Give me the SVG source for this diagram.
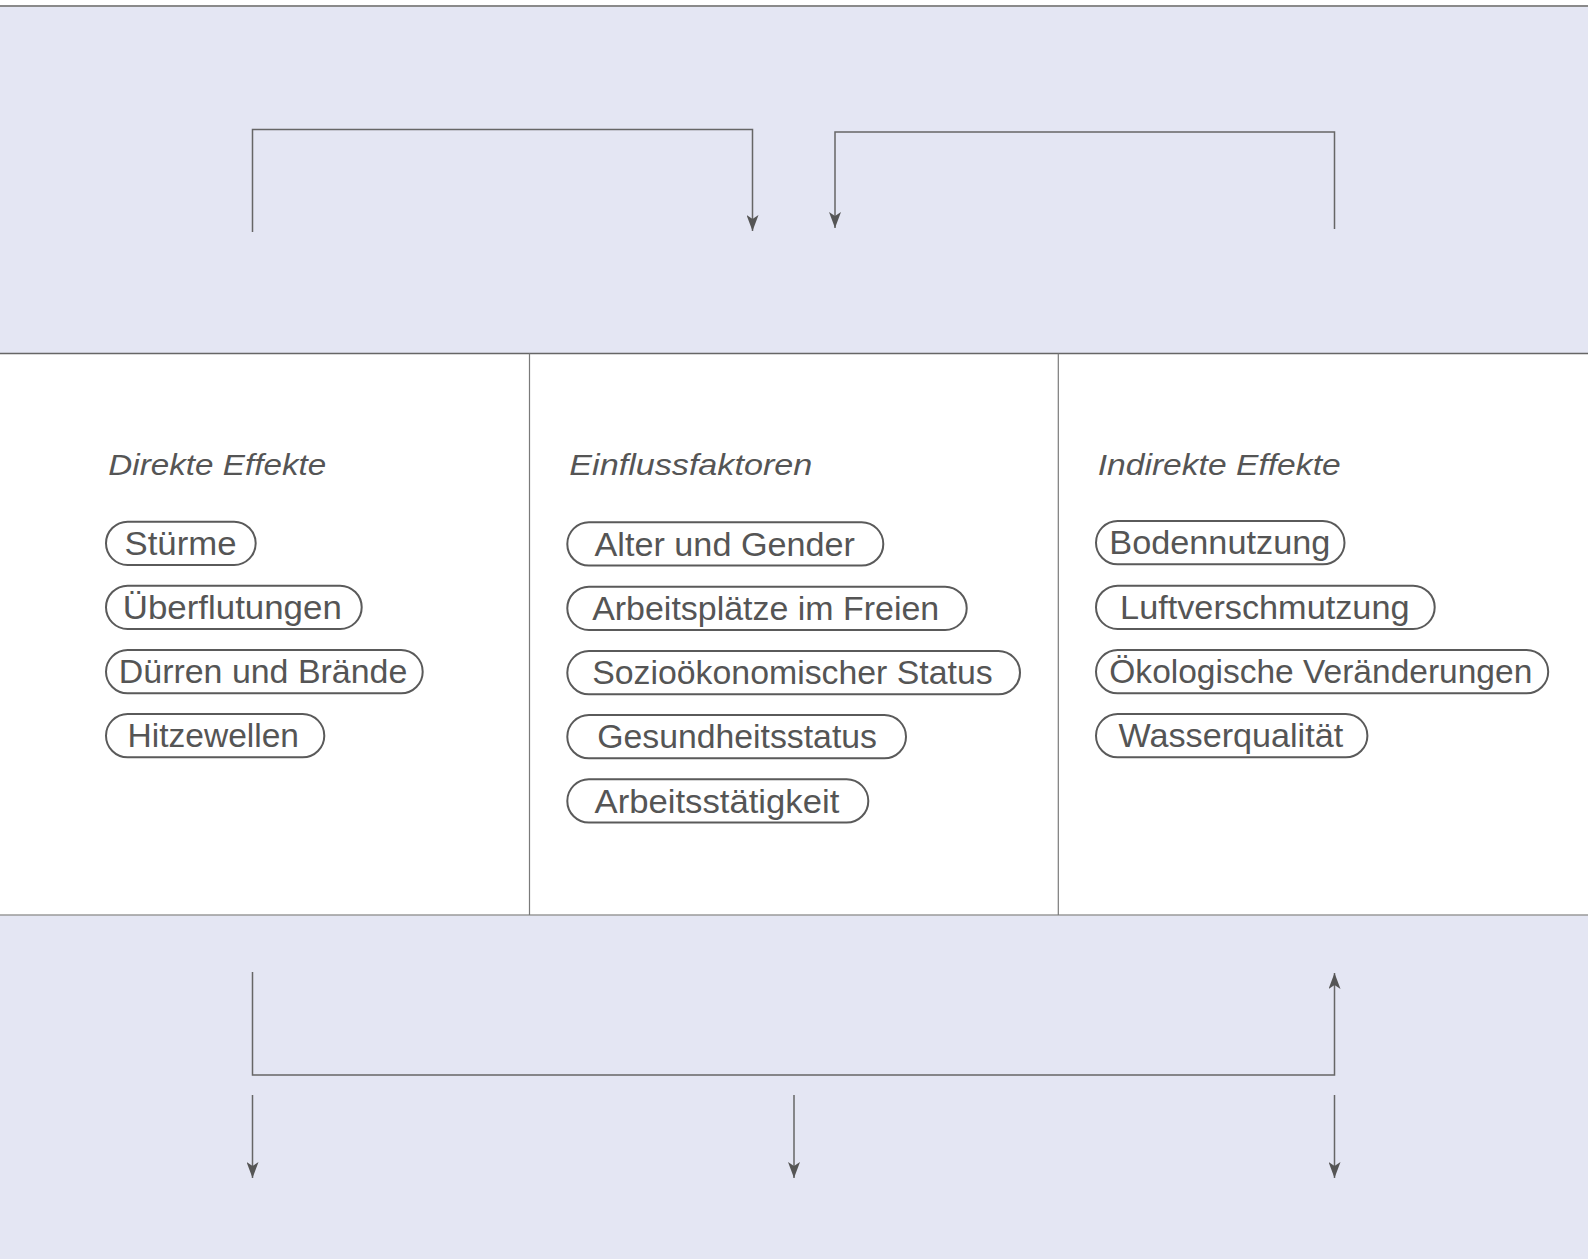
<svg xmlns="http://www.w3.org/2000/svg" width="1588" height="1259" viewBox="0 0 1588 1259">
<style>
.band{fill:#E4E6F3}
.pill{fill:none;stroke:#5a5a5a;stroke-width:2}
.lbl{font-family:"Liberation Sans",Arial,sans-serif;font-size:33px;fill:#555}
.hd{font-family:"Liberation Sans",Arial,sans-serif;font-size:29.5px;font-style:italic;fill:#555}
.conn{fill:none;stroke:#666;stroke-width:1.5}
.div{stroke:#7a7a7a;stroke-width:1.2}
</style>
<defs>
<marker id="ah" viewBox="0 0 16 12" refX="16" refY="6" markerWidth="16" markerHeight="12" markerUnits="userSpaceOnUse" orient="auto">
<path d="M0,0 L16,6 L0,12 L4,6 Z" fill="#555"/>
</marker>
</defs>
<rect width="1588" height="1259" fill="#fff"/>
<g id="bands">
<rect class="band" x="0" y="6" width="1588" height="347.5"/>
<rect class="band" x="0" y="915" width="1588" height="344"/>
<line x1="0" y1="6" x2="1588" y2="6" stroke="#8a8a8a" stroke-width="2"/>
<line x1="0" y1="353.5" x2="1588" y2="353.5" stroke="#666" stroke-width="1.5"/>
<line x1="0" y1="915" x2="1588" y2="915" stroke="#9a9a9a" stroke-width="1.5"/>
<line class="div" x1="529.5" y1="353.5" x2="529.5" y2="915"/>
<line class="div" x1="1058.3" y1="353.5" x2="1058.3" y2="915"/>
</g>
<g id="col-direkt">
<text class="hd" x="108.3" y="475" textLength="218" lengthAdjust="spacingAndGlyphs">Direkte Effekte</text>
<g id="n-stuerme"><rect class="pill" x="106" y="521.7" width="149.7" height="43.3" rx="21.65"/><text class="lbl" x="124.5" y="555" textLength="112" lengthAdjust="spacingAndGlyphs">Stürme</text></g>
<g id="n-ueberflutungen"><rect class="pill" x="106" y="585.7" width="255.7" height="43.3" rx="21.65"/><text class="lbl" x="122.8" y="619" textLength="219" lengthAdjust="spacingAndGlyphs">Überflutungen</text></g>
<g id="n-duerren"><rect class="pill" x="106" y="650" width="316.7" height="43.3" rx="21.65"/><text class="lbl" x="118.8" y="683.3" textLength="288.5" lengthAdjust="spacingAndGlyphs">Dürren und Brände</text></g>
<g id="n-hitzewellen"><rect class="pill" x="106" y="714" width="218.3" height="43.3" rx="21.65"/><text class="lbl" x="127.5" y="747.3" textLength="171.5" lengthAdjust="spacingAndGlyphs">Hitzewellen</text></g>
</g>
<g id="col-einfluss">
<text class="hd" x="569.3" y="475" textLength="243" lengthAdjust="spacingAndGlyphs">Einflussfaktoren</text>
<g id="n-alter"><rect class="pill" x="567.3" y="522.3" width="316" height="43.3" rx="21.65"/><text class="lbl" x="594.5" y="555.6" textLength="260.5" lengthAdjust="spacingAndGlyphs">Alter und Gender</text></g>
<g id="n-arbeitsplaetze"><rect class="pill" x="567.3" y="586.7" width="399.4" height="43.3" rx="21.65"/><text class="lbl" x="592.2" y="620" textLength="347" lengthAdjust="spacingAndGlyphs">Arbeitsplätze im Freien</text></g>
<g id="n-sozio"><rect class="pill" x="567.3" y="651" width="452.7" height="43.3" rx="21.65"/><text class="lbl" x="592.2" y="684.3" textLength="400.5" lengthAdjust="spacingAndGlyphs">Sozioökonomischer Status</text></g>
<g id="n-gesundheit"><rect class="pill" x="567.3" y="715" width="338.7" height="43.3" rx="21.65"/><text class="lbl" x="597.2" y="748.3" textLength="279.8" lengthAdjust="spacingAndGlyphs">Gesundheitsstatus</text></g>
<g id="n-arbeitstaetigkeit"><rect class="pill" x="567.3" y="779.3" width="301" height="43.3" rx="21.65"/><text class="lbl" x="594.5" y="812.6" textLength="244.8" lengthAdjust="spacingAndGlyphs">Arbeitsstätigkeit</text></g>
</g>
<g id="col-indirekt">
<text class="hd" x="1097.7" y="475" textLength="243" lengthAdjust="spacingAndGlyphs">Indirekte Effekte</text>
<g id="n-boden"><rect class="pill" x="1096" y="521" width="248.5" height="43.3" rx="21.65"/><text class="lbl" x="1109.3" y="554.3" textLength="221" lengthAdjust="spacingAndGlyphs">Bodennutzung</text></g>
<g id="n-luft"><rect class="pill" x="1096" y="585.7" width="338.7" height="43.3" rx="21.65"/><text class="lbl" x="1120.1" y="619" textLength="289.4" lengthAdjust="spacingAndGlyphs">Luftverschmutzung</text></g>
<g id="n-oeko"><rect class="pill" x="1096" y="650" width="452.2" height="43.3" rx="21.65"/><text class="lbl" x="1109.3" y="683.3" textLength="423" lengthAdjust="spacingAndGlyphs">Ökologische Veränderungen</text></g>
<g id="n-wasser"><rect class="pill" x="1096" y="714" width="271.4" height="43.3" rx="21.65"/><text class="lbl" x="1118.5" y="747.3" textLength="224.7" lengthAdjust="spacingAndGlyphs">Wasserqualität</text></g>
</g>
<g id="connectors">
<path class="conn" d="M252.5,232 V129.5 H752.5 V231" marker-end="url(#ah)"/>
<path class="conn" d="M1334.5,229 V132 H835 V228" marker-end="url(#ah)"/>
<path class="conn" d="M252.5,972 V1075 H1334.5 V973" marker-end="url(#ah)"/>
<path class="conn" d="M252.5,1095 V1178" marker-end="url(#ah)"/>
<path class="conn" d="M794,1095 V1178" marker-end="url(#ah)"/>
<path class="conn" d="M1334.5,1095 V1178" marker-end="url(#ah)"/>
</g>
</svg>
